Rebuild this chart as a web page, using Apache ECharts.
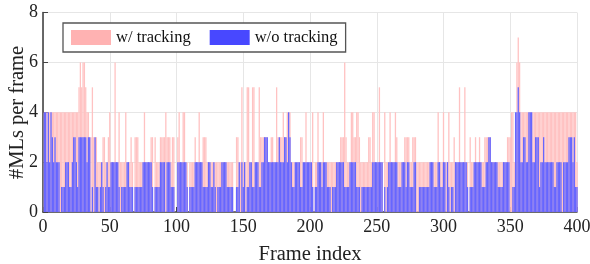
<!DOCTYPE html>
<html><head><meta charset="utf-8">
<script src="https://cdn.jsdelivr.net/npm/echarts@6/dist/echarts.min.js"></script>
<style>html,body{margin:0;padding:0;background:#fff}#c{width:590px;height:264px}</style>
</head><body><div id="c"></div>
<script>
const xTicks = [0, 50, 100, 150, 200, 250, 300, 350, 400];
const yTicks = [0, 2, 4, 6, 8];
const seriesNames = ['w/ tracking', 'w/o tracking'];
const yTitle = '#MLs per frame';
const xTitle = 'Frame index';
// #MLs per frame, frames 1..400
const withTracking = [
4,4,4,4,4,4,4,4,4,4, 4,4,4,4,4,4,4,4,4,4, 4,4,4,4,4,4,5,6,5,6, 6,5,4,4,3,3,5,3,3,3,
2,2,2,2,3,3,2,2,3,4, 2,2,2,6,2,2,4,2,2,2, 2,4,2,2,2,3,2,0,3,3, 3,2,2,2,2,4,2,2,2,2,
3,3,0,3,2,2,2,3,3,3, 3,4,3,3,3,2,3,3,0,0, 3,4,2,2,4,4,2,2,0,2, 2,2,2,3,2,2,4,2,2,3,
3,3,2,2,2,2,2,2,2,2, 2,2,2,2,2,2,2,2,2,2, 2,2,0,0,3,3,2,2,5,2, 2,2,5,5,2,2,5,5,2,2,
2,5,3,3,3,3,3,3,2,2, 3,3,2,2,5,3,3,3,3,4, 3,3,4,4,4,2,2,2,2,2, 2,2,3,3,2,2,4,2,2,2,
2,4,0,2,2,4,2,2,2,4, 2,2,2,2,2,2,2,2,2,2, 2,2,3,3,3,6,3,2,2,2, 4,4,3,3,4,4,3,2,2,2,
2,2,2,3,3,2,4,4,2,2, 2,5,2,2,0,4,2,2,2,4, 2,2,2,4,3,2,2,2,2,2, 3,3,3,3,2,2,3,3,3,2,
2,2,2,2,2,2,2,2,2,2, 2,2,2,2,2,4,2,2,2,4, 2,2,2,4,2,2,2,3,2,2, 2,5,2,2,2,5,2,2,0,3,
2,2,2,3,2,2,3,2,2,2, 3,3,3,3,3,2,2,2,2,2, 2,2,2,2,2,2,2,3,3,3, 4,4,2,2,6,7,6,4,4,4,
4,4,4,4,4,4,4,4,4,4, 4,4,4,4,4,4,4,4,4,4, 4,4,4,4,4,4,4,4,4,4, 4,4,4,4,4,4,4,4,4,2
];
const withoutTracking = [
4,4,2,4,2,4,3,2,3,2, 2,2,0,1,1,1,2,2,2,1, 1,2,3,3,2,1,3,3,3,3, 3,3,2,3,3,0,1,0,3,1,
1,0,1,2,1,0,1,2,1,1, 2,2,2,2,2,2,1,0,1,1, 1,1,2,2,1,1,1,0,1,1, 1,1,1,1,2,2,2,2,2,2,
2,1,0,1,1,1,1,2,2,2, 2,0,2,2,2,1,1,1,0,0, 2,2,2,2,2,2,2,1,0,1, 1,1,1,2,2,2,2,2,2,1,
1,1,1,2,2,1,1,2,1,0, 1,1,1,2,2,2,2,1,1,1, 1,1,0,0,1,1,2,0,2,1, 2,0,1,1,2,2,1,1,2,2,
2,1,1,2,2,3,3,3,2,2, 2,2,2,2,2,2,3,2,2,2, 3,3,2,4,3,2,1,1,2,2, 2,2,1,1,2,2,2,2,2,2,
2,1,0,1,1,2,2,2,1,2, 2,2,1,1,1,0,1,1,1,2, 2,2,2,2,2,1,1,1,1,2, 2,2,2,2,1,1,1,0,1,1,
1,1,1,1,1,1,2,2,2,2, 2,2,2,2,0,1,0,1,2,2, 2,2,2,2,2,1,1,1,2,2, 2,1,2,2,1,1,1,2,2,0,
0,1,1,1,1,1,1,1,1,2, 2,2,1,1,1,2,2,1,1,2, 2,0,2,1,0,1,1,0,2,2, 2,2,2,2,2,2,2,1,0,1,
1,1,2,2,2,2,2,2,1,1, 1,2,2,3,3,2,2,2,2,2, 1,1,1,1,2,2,2,2,2,0, 0,1,1,4,4,5,4,2,2,3,
3,2,2,4,4,4,2,2,3,3, 3,1,2,2,3,2,2,2,2,2, 2,2,1,1,2,2,2,2,0,2, 2,2,2,3,3,3,2,3,1,1
];
const pinkBar = '#ffc2c2', blueBar = '#6666ff';
const pinkLegend = '#ffb2b2', blueLegend = '#4848ff';
const font = 'Liberation Serif';
const chart = echarts.init(document.getElementById('c'), null, {renderer: 'canvas'});
chart.setOption({
  animation: false,
  grid: {left: 43, right: 13, top: 12.5, bottom: 52, containLabel: false, outerBoundsMode: 'none'},
  legend: {
    left: 63, top: 23, orient: 'horizontal',
    itemWidth: 40, itemHeight: 15, itemGap: 19,
    padding: [6, 8, 6, 8],
    backgroundColor: '#fff', borderColor: '#555', borderWidth: 1.3, borderRadius: 0,
    textStyle: {fontFamily: font, fontSize: 16.5, color: '#111'},
    data: [
      {name: seriesNames[0], icon: 'rect', itemStyle: {color: pinkLegend}},
      {name: seriesNames[1], icon: 'rect', itemStyle: {color: blueLegend}}
    ]
  },
  graphic: [{
    type: 'text', x: 18, y: 112.5, rotation: Math.PI / 2, z: 10,
    style: {text: yTitle, fontFamily: font, fontSize: 20.5, fill: '#222',
            align: 'center', verticalAlign: 'middle'}
  }],
  xAxis: {
    type: 'value', min: 0, max: 400, interval: 50,
    name: xTitle, nameLocation: 'middle', nameGap: 32,
    nameTextStyle: {fontFamily: font, fontSize: 20.5, color: '#222'},
    axisLine: {show: true, lineStyle: {color: '#444', width: 1.6}},
    axisTick: {show: true, inside: true, length: 5, lineStyle: {color: '#444'}},
    axisLabel: {fontFamily: font, fontSize: 18, color: '#222', margin: 6},
    splitLine: {show: true, lineStyle: {color: '#e6e6e6', width: 1}}
  },
  yAxis: {
    type: 'value', min: 0, max: 8, interval: 2,
    axisLine: {show: true, lineStyle: {color: '#444', width: 1.6}},
    axisTick: {show: true, inside: true, length: 5, lineStyle: {color: '#444'}},
    axisLabel: {fontFamily: font, fontSize: 18, color: '#222', margin: 5},
    splitLine: {show: true, lineStyle: {color: '#e6e6e6', width: 1}}
  },
  series: [
    {name: seriesNames[0], type: 'bar', barWidth: 1.3, barGap: '-100%',
     itemStyle: {color: pinkBar}, data: withTracking.map((v, i) => [i + 1, v])},
    {name: seriesNames[1], type: 'bar', barWidth: 1.3, barGap: '-100%',
     itemStyle: {color: blueBar}, data: withoutTracking.map((v, i) => [i + 1, v])}
  ]
});
</script></body></html>
